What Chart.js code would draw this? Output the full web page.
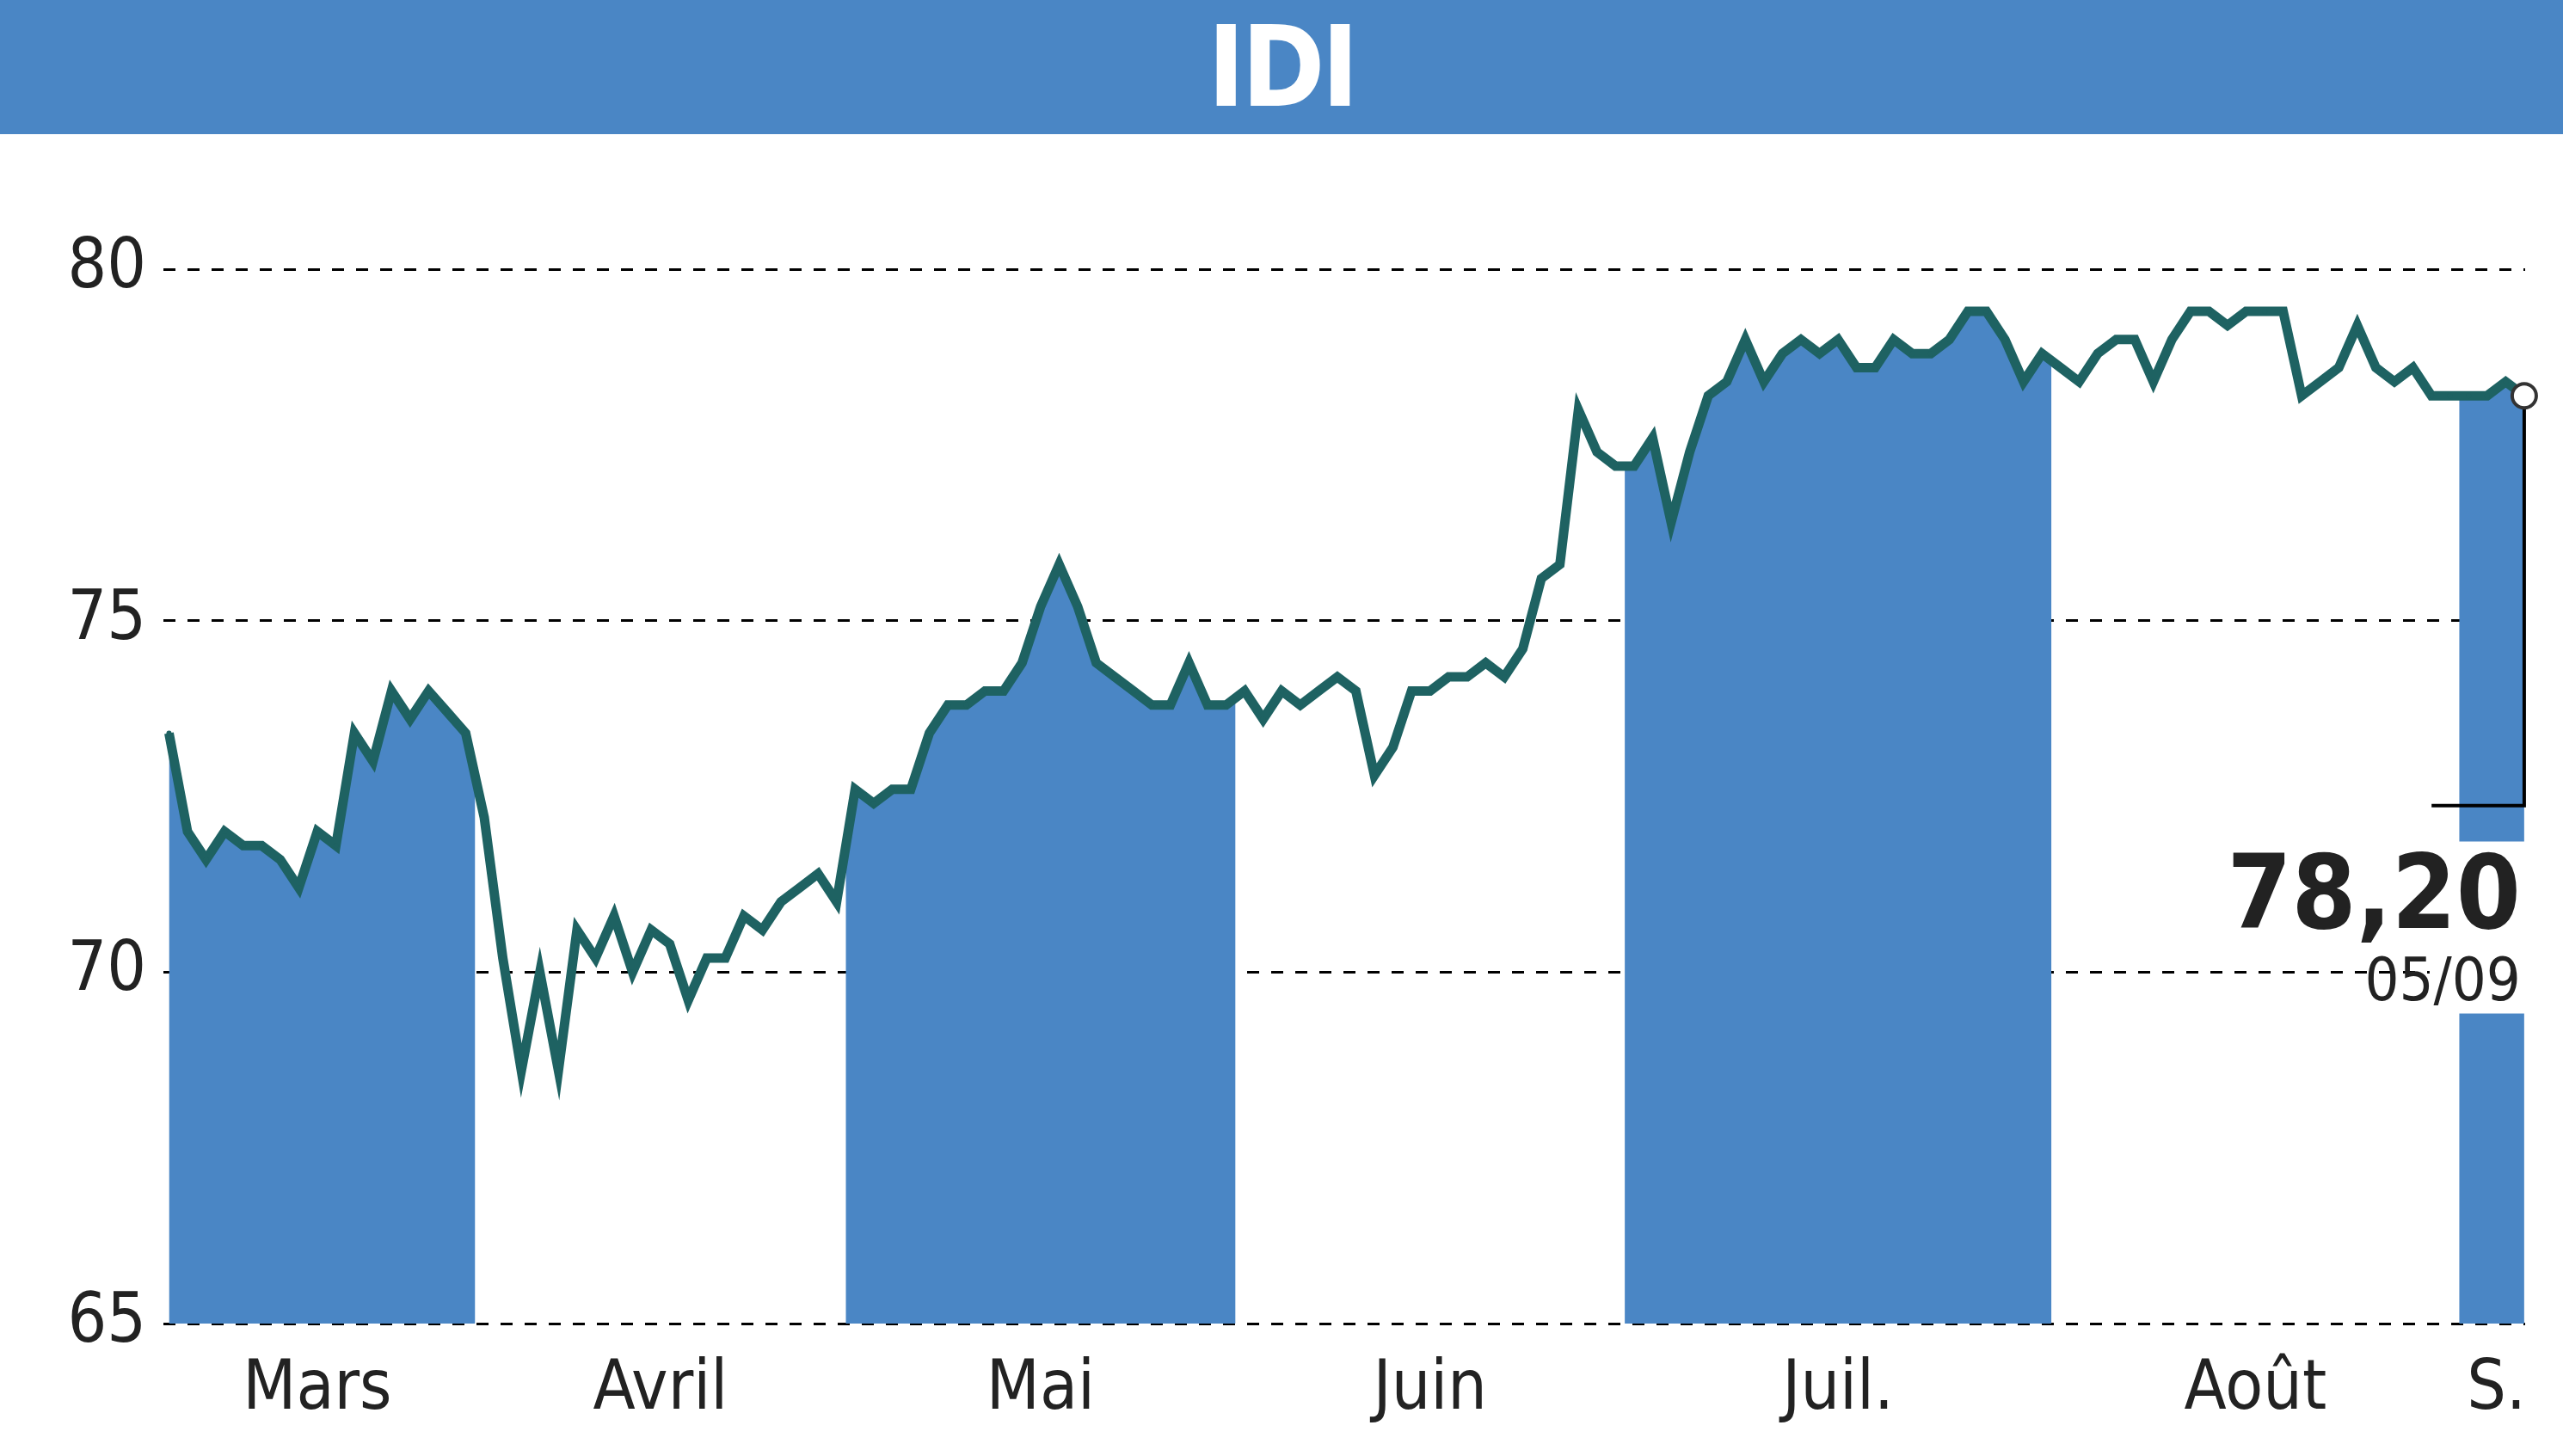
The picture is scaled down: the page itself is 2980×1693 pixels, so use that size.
<!DOCTYPE html>
<html><head><meta charset="utf-8">
<script src="https://cdn.jsdelivr.net/npm/chart.js@4"></script>
<style>
body{margin:0;background:#fff;width:2980px;height:1693px;overflow:hidden;font-family:"DejaVu Sans Condensed","DejaVu Sans",sans-serif}
#title{height:156px;background:#4a86c5;color:#fff;font-weight:bold;font-size:130px;text-align:center;line-height:156px;letter-spacing:-4px}
#wrap{position:relative;width:2980px;height:1537px}
</style></head><body>
<div id="title">IDI</div>
<div id="wrap"><canvas id="c"></canvas></div>
<script>
const months = ["Mars", "Avril", "Mai", "Juin", "Juil.", "Août", "S."];
const mars = [73.4, 72.0, 71.6, 72.0, 71.8, 71.8, 71.6, 71.2, 72.0, 71.8, 73.4, 73.0, 74.0, 73.6, 74.0, 73.7, 73.4];
const avril = [72.2, 70.2, 68.6, 70.0, 68.6, 70.6, 70.2, 70.8, 70.0, 70.6, 70.4, 69.6, 70.2, 70.2, 70.8, 70.6, 71.0, 71.2, 71.4, 71.0];
const mai = [72.6, 72.4, 72.6, 72.6, 73.4, 73.8, 73.8, 74.0, 74.0, 74.4, 75.2, 75.8, 75.2, 74.4, 74.2, 74.0, 73.8, 73.8, 74.4, 73.8, 73.8];
const juin = [74.0, 73.6, 74.0, 73.8, 74.0, 74.2, 74.0, 72.8, 73.2, 74.0, 74.0, 74.2, 74.2, 74.4, 74.2, 74.6, 75.6, 75.8, 78.0, 77.4, 77.2];
const juil = [77.2, 77.6, 76.4, 77.4, 78.2, 78.4, 79.0, 78.4, 78.8, 79.0, 78.8, 79.0, 78.6, 78.6, 79.0, 78.8, 78.8, 79.0, 79.4, 79.4, 79.0, 78.4, 78.8];
const aout = [78.6, 78.4, 78.8, 79.0, 79.0, 78.4, 79.0, 79.4, 79.4, 79.2, 79.4, 79.4, 79.4, 78.2, 78.4, 78.6, 79.2, 78.6, 78.4, 78.6, 78.2, 78.2];
const sept = [78.2, 78.2, 78.4, 78.2];
const yTicks = [65, 70, 75, 80];
const lastLabel = "78,20";
const lastDate = "05/09";

const groups = [mars, avril, mai, juin, juil, aout, sept];
const values = groups.flat();
const pts = values.map((v, i) => ({x: i, y: v}));
const ranges = [];
let s = 0;
groups.forEach(g => { ranges.push([s, s + g.length - 1]); s += g.length; });
const N = values.length;

const bands = {
  id: "bands",
  beforeDatasetsDraw(chart) {
    const {ctx, chartArea: a, scales: {x, y}} = chart;
    ranges.forEach((r, k) => {
      if (k % 2) return;
      const x0 = k === 0 ? x.getPixelForValue(0) : x.getPixelForValue(r[0] - 0.5);
      const x1 = k === ranges.length - 1 ? x.getPixelForValue(N - 1) : x.getPixelForValue(r[1] + 0.5);
      ctx.save();
      ctx.beginPath(); ctx.rect(x0, a.top, x1 - x0, a.bottom - a.top); ctx.clip();
      ctx.beginPath();
      ctx.moveTo(x.getPixelForValue(0), y.bottom);
      pts.forEach(p => ctx.lineTo(x.getPixelForValue(p.x), y.getPixelForValue(p.y)));
      ctx.lineTo(x.getPixelForValue(N - 1), y.bottom);
      ctx.closePath();
      ctx.fillStyle = "#4a86c5"; ctx.fill();
      ctx.restore();
    });
  },
  afterDatasetsDraw(chart) {
    const {ctx, scales: {x, y}} = chart;
    const px = x.getPixelForValue(N - 1), py = y.getPixelForValue(values[N - 1]);
    ctx.save();
    ctx.fillStyle = "#fff";
    ctx.fillRect(px - 110, 515 * 1.9 - 156, 112, 200);
    ctx.strokeStyle = "#000"; ctx.lineWidth = 4;
    ctx.beginPath();
    ctx.moveTo(px, py); ctx.lineTo(px, 493 * 1.9 - 156); ctx.lineTo(1488 * 1.9, 493 * 1.9 - 156);
    ctx.stroke();
    ctx.fillStyle = "#222"; ctx.textAlign = "right"; ctx.textBaseline = "alphabetic";
    ctx.font = "bold 120px 'DejaVu Sans Condensed'";
    ctx.fillText(lastLabel, px - 4, 568 * 1.9 - 156);
    ctx.font = "70px 'DejaVu Sans Condensed'";
    ctx.fillText(lastDate, px - 4, 612 * 1.9 - 156);
    ctx.beginPath(); ctx.arc(px, py, 14, 0, Math.PI * 2);
    ctx.fillStyle = "#fff"; ctx.fill(); ctx.strokeStyle = "#333"; ctx.lineWidth = 4; ctx.stroke();
    ctx.restore();
  }
};

new Chart(document.getElementById("c"), {
  type: "line",
  data: {datasets: [{data: pts, borderColor: "#1e6262", borderWidth: 11, pointRadius: 3, pointBackgroundColor: "#1e6262", pointBorderWidth: 0, tension: 0}]},
  options: {
    responsive: true, maintainAspectRatio: false, animation: false,
    layout: {padding: {top: 14, right: 44}},
    plugins: {legend: {display: false}, tooltip: {enabled: false}},
    scales: {
      x: {
        type: "linear", min: -0.3, max: N - 1 + 0.05,
        afterFit(sc) { sc.height = 154; },
        afterBuildTicks(sc) { sc.ticks = ranges.map(r => ({value: (r[0] + r[1]) / 2})); },
        ticks: {autoSkip: false, maxRotation: 0, color: "#222", font: {size: 80, family: "DejaVu Sans Condensed"}, padding: 22,
          callback: (v, i) => months[i]},
        grid: {display: false}, border: {display: false}
      },
      y: {
        min: 65, max: 81.09,
        afterFit(sc) { sc.width = 190; },
        afterBuildTicks(sc) { sc.ticks = yTicks.map(v => ({value: v})); },
        ticks: {color: "#222", font: {size: 80, family: "DejaVu Sans Condensed"}, padding: 20},
        grid: {color: "#000", lineWidth: 3, drawTicks: false}, border: {display: false, dash: [14, 14]}
      }
    }
  },
  plugins: [bands]
});
</script>
</body></html>
